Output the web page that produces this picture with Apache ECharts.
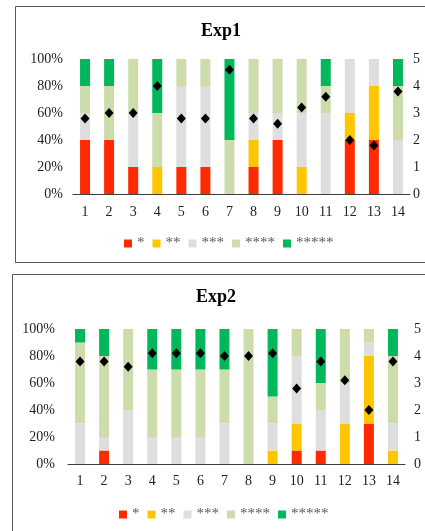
<!DOCTYPE html>
<html>
<head>
<meta charset="utf-8">
<script src="https://cdn.jsdelivr.net/npm/echarts@6/dist/echarts.min.js"></script>
<style>
  html, body { margin: 0; padding: 0; background: #fff; }
  #chart { width: 425px; height: 531px; }
</style>
</head>
<body>
<div id="chart"></div>
<script>
// categories and legend names
const categories = ['1', '2', '3', '4', '5', '6', '7', '8', '9', '10', '11', '12', '13', '14']
const ratingNames = ['*', '**', '***', '****', '*****']

// Exp1, share of each rating (%)
const exp1Star1 = [40, 40, 20, 0, 20, 20, 0, 20, 40, 0, 0, 40, 40, 0]
const exp1Star2 = [0, 0, 0, 20, 0, 0, 0, 20, 0, 20, 0, 20, 40, 0]
const exp1Star3 = [20, 0, 40, 0, 60, 60, 0, 20, 20, 40, 60, 40, 20, 40]
const exp1Star4 = [20, 40, 40, 40, 20, 20, 40, 40, 40, 40, 20, 0, 0, 40]
const exp1Star5 = [20, 20, 0, 40, 0, 0, 60, 0, 0, 0, 20, 0, 0, 20]
const exp1Mean = [2.8, 3.0, 3.0, 4.0, 2.8, 2.8, 4.6, 2.8, 2.6, 3.2, 3.6, 2.0, 1.8, 3.8]

// Exp2, share of each rating (%)
const exp2Star1 = [0, 10, 0, 0, 0, 0, 0, 0, 0, 10, 10, 0, 30, 0]
const exp2Star2 = [0, 0, 0, 0, 0, 0, 0, 0, 10, 20, 0, 30, 50, 10]
const exp2Star3 = [30, 10, 40, 20, 20, 20, 30, 0, 20, 50, 30, 30, 10, 20]
const exp2Star4 = [60, 60, 60, 50, 50, 50, 40, 100, 20, 20, 20, 40, 10, 50]
const exp2Star5 = [10, 20, 0, 30, 30, 30, 30, 0, 50, 0, 40, 0, 0, 20]
const exp2Mean = [3.8, 3.8, 3.6, 4.1, 4.1, 4.1, 4.0, 4.0, 4.1, 2.8, 3.8, 3.1, 2.0, 3.8]

const colors = ['#FF2A00', '#FFC600', '#DEDEDE', '#CDDCAB', '#00B75B']
const serif = 'Liberation Serif'

let chart = echarts.init(document.getElementById('chart'))

function barSeries (lists, gridIdx) {
  return lists.map((vals, i) => ({
    name: ratingNames[i],
    type: 'bar',
    stack: 'exp' + gridIdx,
    xAxisIndex: gridIdx,
    yAxisIndex: gridIdx * 2,
    barWidth: 10,
    data: vals,
    itemStyle: { color: colors[i] },
    emphasis: { disabled: true }
  }))
}

function meanSeries (vals, gridIdx) {
  return {
    name: 'mean' + gridIdx,
    type: 'scatter',
    xAxisIndex: gridIdx,
    yAxisIndex: gridIdx * 2 + 1,
    symbol: 'diamond',
    symbolSize: [9, 10],
    itemStyle: { color: '#000', opacity: 1 },
    z: 5,
    data: vals
  }
}

function xAxis (gridIdx, margin) {
  return {
    type: 'category',
    gridIndex: gridIdx,
    data: categories,
    axisLine: { lineStyle: { color: '#404040', width: 1 } },
    axisTick: { show: false },
    axisLabel: { fontFamily: serif, fontSize: 14, color: '#222', margin: margin }
  }
}

function yAxes (gridIdx, leftMargin, rightMargin) {
  return [{
    type: 'value',
    gridIndex: gridIdx,
    min: 0,
    max: 100,
    interval: 20,
    axisLine: { show: false },
    axisTick: { show: false },
    splitLine: { show: false },
    axisLabel: { formatter: '{value}%', fontFamily: serif, fontSize: 14, color: '#222', margin: leftMargin }
  }, {
    type: 'value',
    gridIndex: gridIdx,
    position: 'right',
    min: 0,
    max: 5,
    interval: 1,
    axisLine: { show: false },
    axisTick: { show: false },
    splitLine: { show: false },
    axisLabel: { fontFamily: serif, fontSize: 14, color: '#222', margin: rightMargin }
  }]
}

function legend (left, top) {
  return {
    data: ratingNames,
    left: left,
    top: top,
    padding: 0,
    icon: 'rect',
    itemWidth: 8,
    itemHeight: 8,
    itemGap: 8,
    selectedMode: false,
    textStyle: { fontFamily: serif, fontSize: 15, color: '#595959', padding: [4, 0, 0, 0] }
  }
}

let option = {
  animation: false,
  graphic: [
    { type: 'rect', shape: { x: 15.5, y: 6.5, width: 420, height: 256 }, style: { fill: null, stroke: '#595959', lineWidth: 1 } },
    { type: 'rect', shape: { x: 12.5, y: 274.5, width: 420, height: 270 }, style: { fill: null, stroke: '#595959', lineWidth: 1 } }
  ],
  title: [
    { text: 'Exp1', left: 201, top: 22, padding: 0, textStyle: { fontFamily: serif, fontSize: 18, fontWeight: 'bold', color: '#000' } },
    { text: 'Exp2', left: 196, top: 288, padding: 0, textStyle: { fontFamily: serif, fontSize: 18, fontWeight: 'bold', color: '#000' } }
  ],
  legend: [legend(124, 236), legend(119, 507)],
  grid: [
    { left: 73, right: 15, top: 59, height: 135 },
    { left: 68, right: 20, top: 329, height: 135 }
  ],
  xAxis: [xAxis(0, 11), xAxis(1, 10)],
  yAxis: yAxes(0, 10, 3).concat(yAxes(1, 13, 9)),
  series: barSeries([exp1Star1, exp1Star2, exp1Star3, exp1Star4, exp1Star5], 0)
    .concat([meanSeries(exp1Mean, 0)])
    .concat(barSeries([exp2Star1, exp2Star2, exp2Star3, exp2Star4, exp2Star5], 1))
    .concat([meanSeries(exp2Mean, 1)])
}
chart.setOption(option)
</script>
</body>
</html>
